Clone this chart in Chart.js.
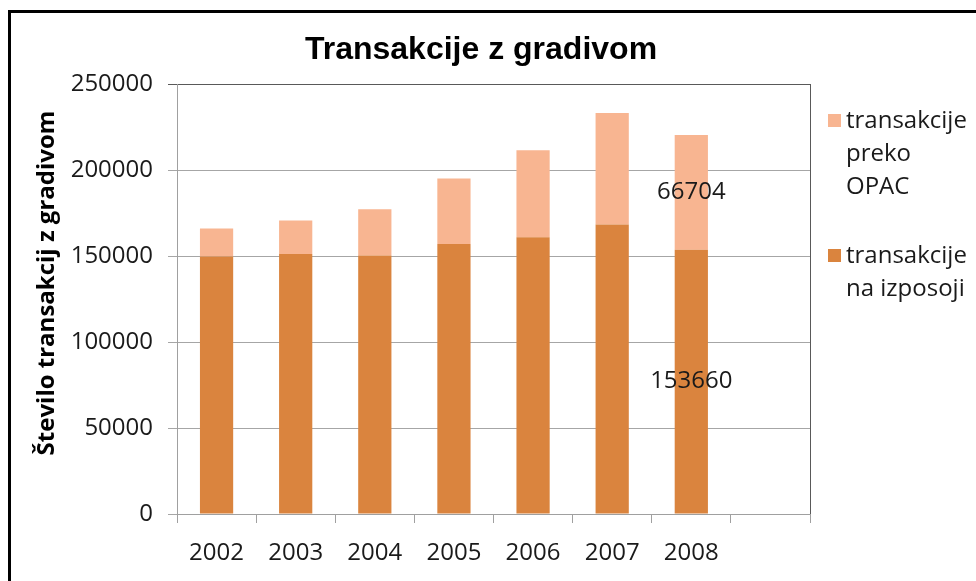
<!DOCTYPE html>
<html>
<head>
<meta charset="utf-8">
<title>Transakcije z gradivom</title>
<script src="https://cdn.jsdelivr.net/npm/chart.js@4"></script>
<style>
  html, body { margin: 0; padding: 0; background: #fff; }
  #wrap { width: 976px; height: 581px; position: relative; }
</style>
</head>
<body>
<div id="wrap"><canvas id="chart" width="976" height="581"></canvas></div>
<script>
// data
const years = ['2002', '2003', '2004', '2005', '2006', '2007', '2008'];
const izposoja = [149650, 151170, 150240, 156980, 160880, 168270, 153660];
const opac = [16290, 19420, 26930, 38040, 50600, 64910, 66704];
const yTicks = [0, 50000, 100000, 150000, 200000, 250000];
const labelledYear = '2008';

const DARK = '#DA843E';
const LIGHT = '#F8B591';
const FONT = "'Open Sans', 'Noto Sans', sans-serif";

// empty 8th slot, as in the original
const categories = [...years, ''];

const decorPlugin = {
  id: 'decor',
  beforeDraw(chart) {
    const ctx = chart.ctx;
    ctx.save();
    ctx.fillStyle = '#fff';
    ctx.fillRect(0, 0, chart.width, chart.height);
    ctx.strokeStyle = '#000';
    ctx.lineWidth = 3;
    ctx.strokeRect(9.5, 11.5, 1100, 1100);
    ctx.restore();
  },
  afterDraw(chart) {
    const ctx = chart.ctx;
    const area = chart.chartArea;
    ctx.save();

    // right border of plot area
    ctx.strokeStyle = '#595959';
    ctx.lineWidth = 1;
    ctx.beginPath();
    ctx.moveTo(Math.round(area.right) + 0.5, area.top);
    ctx.lineTo(Math.round(area.right) + 0.5, area.bottom);
    ctx.stroke();

    // title
    ctx.fillStyle = '#000';
    ctx.font = "bold 32px 'Liberation Sans', Arial, sans-serif";
    ctx.textAlign = 'center';
    ctx.textBaseline = 'alphabetic';
    ctx.fillText('Transakcije z gradivom', 481, 59);

    // y axis title
    ctx.save();
    ctx.translate(47, 283);
    ctx.rotate(-Math.PI / 2);
    ctx.font = 'bold 24px ' + FONT;
    ctx.textBaseline = 'middle';
    ctx.fillText('Število transakcij z gradivom', 0, 0);
    ctx.restore();

    // legend
    const legend = [
      { color: LIGHT, lines: ['transakcije', 'preko', 'OPAC'], y: 121 },
      { color: DARK, lines: ['transakcije', 'na izposoji'], y: 256 }
    ];
    ctx.font = '24px ' + FONT;
    ctx.textAlign = 'left';
    ctx.textBaseline = 'middle';
    legend.forEach(item => {
      ctx.fillStyle = item.color;
      ctx.fillRect(828, item.y - 7, 13, 13);
      ctx.fillStyle = '#1a1a1a';
      item.lines.forEach((ln, i) => ctx.fillText(ln, 846, item.y + i * 33));
    });

    // value labels on the last year
    const idx = years.indexOf(labelledYear);
    ctx.textAlign = 'center';
    ctx.fillStyle = '#1a1a1a';
    chart.data.datasets.forEach((ds, di) => {
      const el = chart.getDatasetMeta(di).data[idx];
      if (!el) return;
      ctx.fillText(String(ds.data[idx]), el.x, (el.y + el.base) / 2);
    });

    ctx.restore();
  }
};

new Chart(document.getElementById('chart'), {
  type: 'bar',
  data: {
    labels: categories,
    datasets: [
      {
        label: 'transakcije na izposoji',
        data: izposoja,
        backgroundColor: DARK,
        categoryPercentage: 1,
        barPercentage: 0.42
      },
      {
        label: 'transakcije preko OPAC',
        data: opac,
        backgroundColor: LIGHT,
        categoryPercentage: 1,
        barPercentage: 0.42
      }
    ]
  },
  options: {
    responsive: false,
    animation: false,
    layout: { padding: { left: 0, top: 84, right: 166, bottom: 0 } },
    plugins: {
      legend: { display: false },
      title: { display: false },
      tooltip: { enabled: false }
    },
    scales: {
      x: {
        stacked: true,
        offset: true,
        grid: { offset: true, drawOnChartArea: false, drawTicks: true, tickLength: 9, color: '#a0a0a0' },
        border: { color: '#a0a0a0' },
        ticks: { color: '#1a1a1a', font: { family: FONT, size: 24 }, padding: 16, maxRotation: 0, autoSkip: false },
        afterFit: s => { s.height = 67; }
      },
      y: {
        stacked: true,
        min: 0,
        max: yTicks[yTicks.length - 1],
        afterBuildTicks: s => { s.ticks = yTicks.map(v => ({ value: v })); },
        grid: {
          tickLength: 9,
          color: c => (c.tick && c.tick.value === yTicks[yTicks.length - 1]) ? '#595959' : '#a6a6a6'
        },
        border: { color: '#a0a0a0' },
        ticks: { color: '#1a1a1a', font: { family: FONT, size: 24 }, padding: 15, callback: v => String(v) },
        afterFit: s => { s.width = 177; }
      }
    }
  },
  plugins: [decorPlugin]
});
</script>
</body>
</html>
